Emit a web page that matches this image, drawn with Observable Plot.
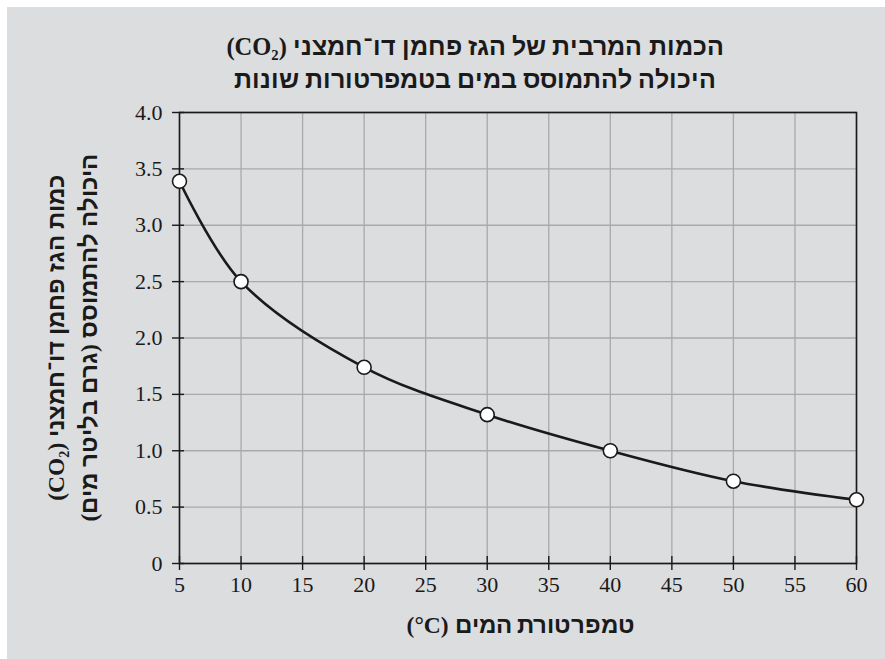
<!DOCTYPE html>
<html>
<head>
<meta charset="utf-8">
<script src="https://cdn.jsdelivr.net/npm/d3@7"></script>
<script src="https://cdn.jsdelivr.net/npm/@observablehq/plot@0.6"></script>
<style>
@font-face { font-family: "HebBold"; src: local("Liberation Sans Bold"), local("LiberationSans-Bold"); font-weight: bold; unicode-range: U+0590-05FF; }
@font-face { font-family: "HebBold"; src: local("Liberation Sans Bold"), local("LiberationSans-Bold"); font-weight: normal; unicode-range: U+0590-05FF; }
html, body { margin: 0; padding: 0; background: #ffffff; }
#panel { position: absolute; left: 7px; top: 7px; width: 878px; height: 652px; background: #dcdddf; overflow: hidden; }
.t { position: absolute; direction: rtl; text-align: center; font-family: "HebBold", "Liberation Serif", serif; font-weight: bold; color: #1a1a1a; white-space: nowrap; }
#title { left: 168px; width: 600px; top: 23px; font-size: 24.5px; line-height: 33px; }
#xlabel { left: 314px; width: 400px; top: 602px; font-size: 23.5px; line-height: 32px; }
#ylabel { left: 66px; top: 331px; width: 520px; font-size: 23.5px; line-height: 33px; transform: translate(-50%, -50%) rotate(-90deg); }
#chart { position: absolute; left: 0; top: 0; }
</style>
</head>
<body>
<div id="panel">
  <div id="chart"></div>
  <div class="t" id="title">הכמות המרבית של הגז פחמן דו־חמצני (CO₂)<br>היכולה להתמוסס במים בטמפרטורות שונות</div>
  <div class="t" id="ylabel">כמות הגז פחמן דו־חמצני (CO₂)<br>היכולה להתמוסס (גרם בליטר מים)</div>
  <div class="t" id="xlabel">טמפרטורת המים (<span dir="ltr">°C</span>)</div>
</div>
<script>
const temps = [5, 10, 20, 30, 40, 50, 60];
const co2 = [3.39, 2.5, 1.74, 1.32, 1.0, 0.73, 0.565];
const xTicks = [5, 10, 15, 20, 25, 30, 35, 40, 45, 50, 55, 60];
const yTicks = [0, 0.5, 1.0, 1.5, 2.0, 2.5, 3.0, 3.5, 4.0];
const yTickLabels = ["0", "0.5", "1.0", "1.5", "2.0", "2.5", "3.0", "3.5", "4.0"];

const data = temps.map((t, i) => ({t, v: co2[i]}));
const ink = "#1a1a1a";
const grid = "#a9a9a9";
const serif = "Liberation Serif";

const chart = Plot.plot({
  width: 878,
  height: 652,
  marginLeft: 172,
  marginRight: 29,
  marginTop: 105,
  marginBottom: 96,
  x: {domain: [5, 60]},
  y: {domain: [0, 4]},
  style: {background: "transparent", fontFamily: serif, fontSize: "22px", color: ink},
  marks: [
    Plot.ruleX(xTicks, {x: d => d, stroke: grid, strokeWidth: 1.3}),
    Plot.ruleY(yTicks, {y: d => d, stroke: grid, strokeWidth: 1.3}),
    Plot.frame({stroke: ink, strokeWidth: 1.6}),
    Plot.ruleY(yTicks, {y: d => d, x1: 5, x2: 5, insetLeft: -7, insetRight: -5, stroke: ink, strokeWidth: 1.4}),
    Plot.ruleX(xTicks, {x: d => d, y1: 0, y2: 0, insetTop: -7, insetBottom: -7, stroke: ink, strokeWidth: 1.4}),
    Plot.axisY(yTicks, {tickSize: 0, tickPadding: 17, fontSize: 22, fontFamily: serif, fill: ink, label: null, tickFormat: d => yTickLabels[yTicks.indexOf(d)]}),
    Plot.axisX(xTicks, {tickSize: 0, tickPadding: 13, fontSize: 22, fontFamily: serif, fill: ink, label: null, tickFormat: d => String(d)}),
    Plot.line(data, {x: "t", y: "v", curve: "catmull-rom", stroke: ink, strokeWidth: 2.6}),
    Plot.dot(data, {x: "t", y: "v", r: 7, fill: "white", stroke: ink, strokeWidth: 1.6})
  ]
});
d3.select(chart).selectAll("text")
  .style("font-family", "'Liberation Serif', 'Times New Roman', Times, serif")
  .style("font-size", "22px")
  .style("font-variant", "normal");
document.getElementById("chart").appendChild(chart);
</script>
</body>
</html>
